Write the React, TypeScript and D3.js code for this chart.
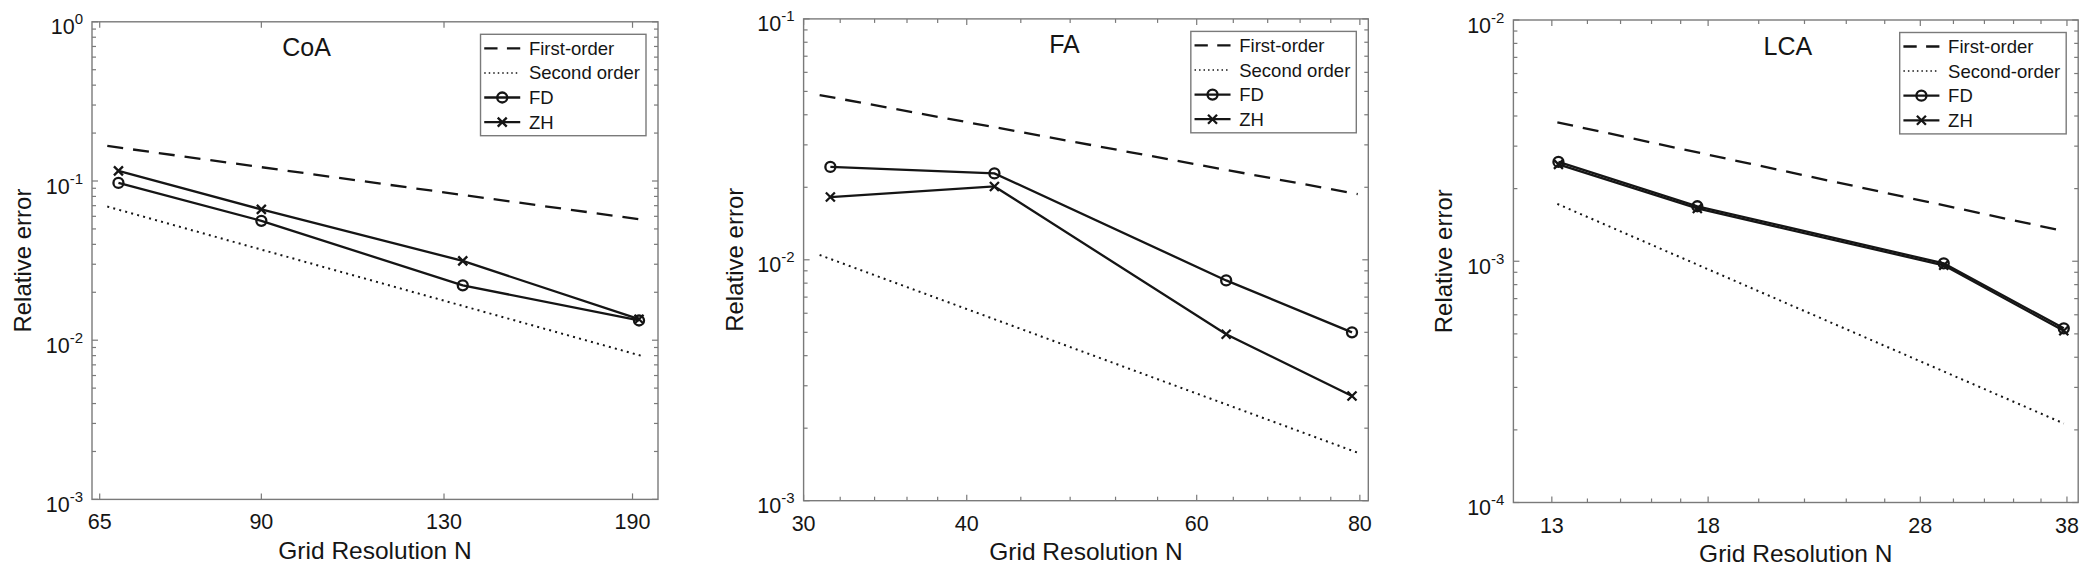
import * as d3 from 'd3'
import React from 'react'

const W = 2092
const H = 569

// CoA
const coaN = [67.5, 90, 135, 192.5]
const coaFD = [0.0973, 0.0562, 0.0221, 0.0133]
const coaZH = [0.1157, 0.0663, 0.0315, 0.01355]
const coaRefN = [66, 194]
const coaFirst = [0.166, 0.0571]
const coaSecond = [0.0691, 0.00793]
const coaXTicks = [65, 90, 130, 190]

// FA
const faN = [31.45, 42, 63.2, 78.9]
const faFD = [0.0243, 0.02284, 0.00821, 0.005]
const faZH = [0.01822, 0.02016, 0.00491, 0.00272]
const faRefN = [30.86, 79.7]
const faFirst = [0.0483, 0.01874]
const faSecond = [0.01047, 0.001582]
const faXTicks = [30, 40, 60, 80]

// LCA
const lcaN = [13.18, 17.6, 29.4, 37.75]
const lcaFD = [0.00258, 0.00169, 0.00098, 0.000527]
const lcaZH = [0.00252, 0.001655, 0.000962, 0.000515]
const lcaRefN = [13.15, 37.75]
const lcaFirst = [0.003767, 0.001333]
const lcaSecond = [0.001728, 0.0002126]
const lcaXTicks = [13, 18, 28, 38]

const panels = [
  {
    title: 'CoA', n: coaN, fd: coaFD, zh: coaZH, refN: coaRefN, first: coaFirst, second: coaSecond,
    xTicks: coaXTicks, xMinor: false, xDomain: [64, 200], yDomain: [1e-3, 1],
    legend: ['First-order', 'Second order', 'FD', 'ZH'],
    left: 92, right: 658, top: 21.8, bottom: 499.4, titleX: 0.379,
  },
  {
    title: 'FA', n: faN, fd: faFD, zh: faZH, refN: faRefN, first: faFirst, second: faSecond,
    xTicks: faXTicks, xMinor: true, xDomain: [30, 81.2], yDomain: [1e-3, 1e-1],
    legend: ['First-order', 'Second order', 'FD', 'ZH'],
    left: 803.6, right: 1368.3, top: 18.9, bottom: 500.7, titleX: 0.462,
  },
  {
    title: 'LCA', n: lcaN, fd: lcaFD, zh: lcaZH, refN: lcaRefN, first: lcaFirst, second: lcaSecond,
    xTicks: lcaXTicks, xMinor: true, xDomain: [12, 38.9], yDomain: [1e-4, 1e-2],
    legend: ['First-order', 'Second-order', 'FD', 'ZH'],
    left: 1513.4, right: 2078.2, top: 20, bottom: 502.5, titleX: 0.486,
  },
]

const FONT = '"Liberation Sans", Arial, Helvetica, sans-serif'
const INK = '#151515'
const AXIS = '#7a7a7a'
const LW = 2.3

function measure(text: string, size: number) {
  const c = document.createElement('canvas').getContext('2d')!
  c.font = `${size}px "Liberation Sans"`
  return c.measureText(text).width
}

function Panel({ p }: { p: (typeof panels)[number] }) {
  const x = d3.scaleLog().domain(p.xDomain).range([p.left, p.right])
  const y = d3.scaleLog().domain(p.yDomain).range([p.bottom, p.top])
  const line = d3
    .line<[number, number]>()
    .x(d => x(d[0]))
    .y(d => y(d[1]))

  const lo = Math.round(Math.log10(p.yDomain[0]))
  const hi = Math.round(Math.log10(p.yDomain[1]))
  const yMajor = d3.range(lo, hi + 1).map(e => Math.pow(10, e))
  const yMinor: number[] = []
  for (let e = lo; e < hi; e++) for (let k = 2; k <= 9; k++) yMinor.push(k * Math.pow(10, e))

  // minor x ticks split each major interval in five
  const xMinor: number[] = []
  if (p.xMinor) {
    for (let i = 0; i < p.xTicks.length - 1; i++) {
      const a = p.xTicks[i]
      const b = p.xTicks[i + 1]
      for (let k = 1; k < 5; k++) xMinor.push(a + ((b - a) * k) / 5)
    }
  }

  const fd = p.n.map((v, i) => [v, p.fd[i]] as [number, number])
  const zh = p.n.map((v, i) => [v, p.zh[i]] as [number, number])
  const first = p.refN.map((v, i) => [v, p.first[i]] as [number, number])
  const second = p.refN.map((v, i) => [v, p.second[i]] as [number, number])

  const legFont = 18.5
  const textW = Math.max(...p.legend.map(t => measure(t, legFont)))
  const legW = 48.4 + textW + 6
  const legH = 101.4
  const legX = p.right - 12 - legW
  const legY = p.top + 12.5
  const rowY = (i: number) => legY + 14 + i * 24.6

  const cx = (p.left + p.right) / 2
  const cy = (p.top + p.bottom) / 2

  const circle = (px: number, py: number, key: string) => (
    <circle key={key} cx={px} cy={py} r={5} fill="none" stroke={INK} strokeWidth={LW} />
  )
  const cross = (px: number, py: number, key: string) => (
    <path key={key} d={`M${px - 4.5},${py - 4.5}L${px + 4.5},${py + 4.5}M${px - 4.5},${py + 4.5}L${px + 4.5},${py - 4.5}`} stroke={INK} strokeWidth={LW} />
  )

  return (
    <g>
      {/* axes box */}
      <rect x={p.left} y={p.top} width={p.right - p.left} height={p.bottom - p.top} fill="none" stroke={AXIS} strokeWidth={1.4} />
      {yMajor.map(v => (
        <g key={'ym' + v}>
          <line x1={p.left} x2={p.left + 6} y1={y(v)} y2={y(v)} stroke={AXIS} strokeWidth={1.2} />
          <line x1={p.right} x2={p.right - 6} y1={y(v)} y2={y(v)} stroke={AXIS} strokeWidth={1.2} />
          <text x={p.left - 9} y={y(v) + 12.5} textAnchor="end" fontSize={21.5} fill={INK} fontFamily={FONT}>
            10<tspan dy={-10} fontSize={15}>{Math.round(Math.log10(v))}</tspan>
          </text>
        </g>
      ))}
      {yMinor.map(v => (
        <g key={'yn' + v}>
          <line x1={p.left} x2={p.left + 4} y1={y(v)} y2={y(v)} stroke={AXIS} strokeWidth={1.2} />
          <line x1={p.right} x2={p.right - 4} y1={y(v)} y2={y(v)} stroke={AXIS} strokeWidth={1.2} />
        </g>
      ))}
      {xMinor.map(v => (
        <g key={'xn' + v}>
          <line x1={x(v)} x2={x(v)} y1={p.bottom} y2={p.bottom - 4} stroke={AXIS} strokeWidth={1.2} />
          <line x1={x(v)} x2={x(v)} y1={p.top} y2={p.top + 4} stroke={AXIS} strokeWidth={1.2} />
        </g>
      ))}
      {p.xTicks.map(v => (
        <g key={'xm' + v}>
          <line x1={x(v)} x2={x(v)} y1={p.bottom} y2={p.bottom - 6} stroke={AXIS} strokeWidth={1.2} />
          <line x1={x(v)} x2={x(v)} y1={p.top} y2={p.top + 6} stroke={AXIS} strokeWidth={1.2} />
          <text x={x(v)} y={p.bottom + 30} textAnchor="middle" fontSize={21.5} fill={INK} fontFamily={FONT}>
            {v}
          </text>
        </g>
      ))}

      {/* axis labels and title */}
      <text x={cx} y={p.bottom + 59.5} textAnchor="middle" fontSize={24.5} fill={INK} fontFamily={FONT}>
        Grid Resolution N
      </text>
      <text transform={`translate(${p.left - 61},${cy}) rotate(-90)`} textAnchor="middle" fontSize={24} fill={INK} fontFamily={FONT}>
        Relative error
      </text>
      <text x={p.left + p.titleX * (p.right - p.left)} y={p.top + 34.5} textAnchor="middle" fontSize={25} fill={INK} fontFamily={FONT}>
        {p.title}
      </text>

      {/* reference slopes */}
      <path d={line(first)!} fill="none" stroke={INK} strokeWidth={LW} strokeDasharray="16 10" />
      <path d={line(second)!} fill="none" stroke={INK} strokeWidth={2} strokeDasharray="2 4.2" />

      {/* data */}
      <path d={line(fd)!} fill="none" stroke={INK} strokeWidth={LW} />
      <path d={line(zh)!} fill="none" stroke={INK} strokeWidth={LW} />
      {fd.map((d, i) => circle(x(d[0]), y(d[1]), 'c' + i))}
      {zh.map((d, i) => cross(x(d[0]), y(d[1]), 'x' + i))}

      {/* legend */}
      <rect x={legX} y={legY} width={legW} height={legH} fill="white" stroke={AXIS} strokeWidth={1.4} />
      <line x1={legX + 3.7} x2={legX + 39.7} y1={rowY(0)} y2={rowY(0)} stroke={INK} strokeWidth={LW} strokeDasharray="13.3 9.4" />
      <line x1={legX + 3.7} x2={legX + 39.7} y1={rowY(1)} y2={rowY(1)} stroke={INK} strokeWidth={1.5} strokeDasharray="1.5 3" />
      <line x1={legX + 3.7} x2={legX + 39.7} y1={rowY(2)} y2={rowY(2)} stroke={INK} strokeWidth={LW} />
      <line x1={legX + 3.7} x2={legX + 39.7} y1={rowY(3)} y2={rowY(3)} stroke={INK} strokeWidth={LW} />
      {circle(legX + 21.7, rowY(2), 'lc')}
      {cross(legX + 21.7, rowY(3), 'lx')}
      {p.legend.map((t, i) => (
        <text key={t} x={legX + 48.4} y={rowY(i) + 6.5} fontSize={legFont} fill={INK} fontFamily={FONT}>
          {t}
        </text>
      ))}
    </g>
  )
}

export default function App() {
  return (
    <svg width={W} height={H} style={{ position: 'absolute', left: 0, top: 0, background: 'white' }}>
      {panels.map(p => (
        <Panel key={p.title} p={p} />
      ))}
    </svg>
  )
}
